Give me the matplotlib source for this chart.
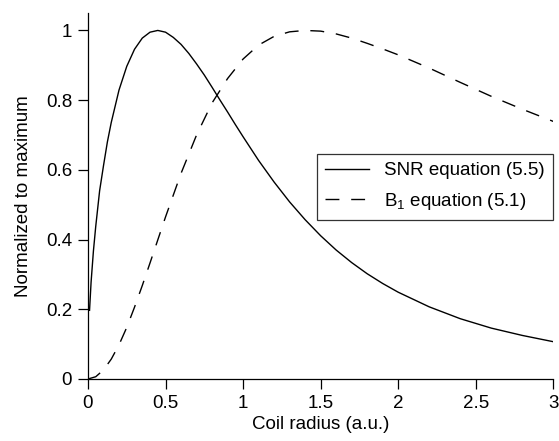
import matplotlib
matplotlib.use('Agg')
import matplotlib.pyplot as plt

plt.rcParams['font.family'] = ['Liberation Sans', 'DejaVu Sans']
plt.rcParams['mathtext.fontset'] = 'custom'
plt.rcParams['mathtext.rm'] = 'Liberation Sans'
plt.rcParams['lines.scale_dashes'] = False

# values
snr_x = [0.01, 0.02, 0.035, 0.05, 0.075, 0.1, 0.125, 0.15, 0.2, 0.25, 0.3,
         0.35, 0.4, 0.45, 0.5, 0.55, 0.6, 0.65, 0.7, 0.75, 0.8, 0.85, 0.9,
         0.95, 1.0, 1.1, 1.2, 1.3, 1.4, 1.5, 1.6, 1.7, 1.8, 1.9, 2.0, 2.2,
         2.4, 2.6, 2.8, 3.0]
snr_y = [0.197, 0.278, 0.367, 0.438, 0.54, 0.612, 0.68, 0.736, 0.829, 0.897,
         0.946, 0.978, 0.995, 1.0, 0.995, 0.98, 0.96, 0.934, 0.904, 0.872,
         0.837, 0.801, 0.766, 0.73, 0.695, 0.627, 0.565, 0.508, 0.457, 0.411,
         0.37, 0.334, 0.302, 0.274, 0.249, 0.207, 0.173, 0.146, 0.125, 0.107]

b1_x = [0.0, 0.05, 0.1, 0.15, 0.2, 0.25, 0.3, 0.35, 0.4, 0.5, 0.6, 0.7, 0.8,
        0.9, 1.0, 1.1, 1.2, 1.3, 1.4, 1.5, 1.6, 1.7, 1.8, 1.9, 2.0, 2.2, 2.4,
        2.6, 2.8, 3.0]
b1_y = [0.0, 0.0065, 0.026, 0.057, 0.098, 0.148, 0.206, 0.268, 0.333, 0.465,
        0.59, 0.70, 0.792, 0.862, 0.918, 0.958, 0.983, 0.996, 1.0, 0.998,
        0.99, 0.978, 0.963, 0.947, 0.93, 0.892, 0.851, 0.811, 0.774, 0.739]

labels = ['SNR equation (5.5)', r'$\mathregular{B_1}$ equation (5.1)']

fs = 13.5

fig = plt.figure(figsize=(5.59, 4.41), dpi=100)
ax = fig.add_axes([0.1574, 0.1406, 0.8324, 0.8299])

ax.plot(snr_x, snr_y, color='black', lw=1.0, label=labels[0])
ax.plot(b1_x, b1_y, color='black', lw=1.0, dashes=(10, 8.5), label=labels[1])

ax.set_xlim(0, 3)
ax.set_ylim(0, 1.05)
ax.set_xticks([0, 0.5, 1, 1.5, 2, 2.5, 3])
ax.set_xticklabels(['0', '0.5', '1', '1.5', '2', '2.5', '3'])
ax.set_yticks([0, 0.2, 0.4, 0.6, 0.8, 1])
ax.set_yticklabels(['0', '0.2', '0.4', '0.6', '0.8', '1'])
for s in ['top', 'right']:
    ax.spines[s].set_visible(False)
for s in ['left', 'bottom']:
    ax.spines[s].set_linewidth(0.9)
ax.tick_params(direction='out', length=7.2, width=0.9, labelsize=fs)
ax.tick_params(axis='x', pad=4)
ax.tick_params(axis='y', pad=4.3)

ax.set_xlabel('Coil radius (a.u.)', fontsize=fs, labelpad=3)
ax.set_ylabel('Normalized to maximum', fontsize=fs, labelpad=10)

leg = ax.legend(loc='upper right', bbox_to_anchor=(1.0, 0.615), fontsize=fs,
                frameon=True, fancybox=False, borderaxespad=0,
                handlelength=2.35, handletextpad=0.8, labelspacing=0.6,
                borderpad=0.45)
leg.get_frame().set_edgecolor('black')
leg.get_frame().set_linewidth(0.9)

fig.savefig('out.png', dpi=100)
